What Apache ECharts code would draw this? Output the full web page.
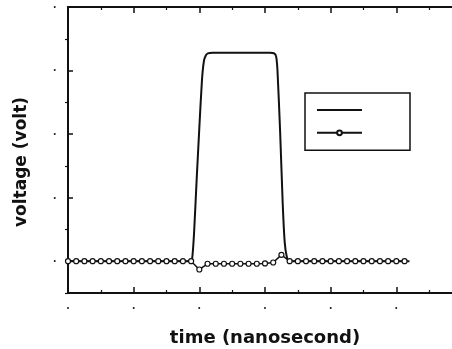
<!DOCTYPE html>
<html>
<head>
<meta charset="utf-8">
<script src="https://cdn.jsdelivr.net/npm/echarts@6/dist/echarts.min.js"></script>
<style>
html,body{margin:0;padding:0;background:#fff;}
#c{width:452px;height:349px;}
</style>
</head>
<body>
<div id="c"></div>
<script>
// ---- data ----
const xTitle = 'time (nanosecond)';
const yTitle = 'voltage (volt)';
const tickDot = '•';
const xLabelValues = [0, 1, 2, 3, 4, 5];
const yLabelValues = [0, 1, 2, 3, 4];
const yMinorValues = [-0.5, 0.5, 1.5, 2.5, 3.5];

// solid pulse (no markers)
const pulseTime = [0, 1.85, 1.89, 1.92, 1.96, 2.00, 2.04, 2.07, 2.10, 2.13, 2.20, 3.08, 3.14, 3.17, 3.19, 3.23, 3.27, 3.30, 3.33, 3.37, 5.2];
const pulseVolt = [0, 0, 0.04, 0.45, 1.3, 2.1, 2.85, 3.15, 3.24, 3.27, 3.28, 3.28, 3.27, 3.22, 3.0, 2.05, 0.9, 0.3, 0.08, 0, 0];

// line with open circle markers
const markTime = [0, 0.125, 0.25, 0.375, 0.5, 0.625, 0.75, 0.875, 1.0, 1.125, 1.25, 1.375, 1.5, 1.625, 1.75, 1.875,
  2.0, 2.125, 2.25, 2.375, 2.5, 2.625, 2.75, 2.875, 3.0, 3.125, 3.25, 3.375,
  3.5, 3.625, 3.75, 3.875, 4.0, 4.125, 4.25, 4.375, 4.5, 4.625, 4.75, 4.875, 5.0, 5.125];
const markVolt = [0, 0, 0, 0, 0, 0, 0, 0, 0, 0, 0, 0, 0, 0, 0, 0,
  -0.13, -0.04, -0.04, -0.04, -0.04, -0.04, -0.04, -0.04, -0.035, -0.02, 0.1, 0.0,
  0, 0, 0, 0, 0, 0, 0, 0, 0, 0, 0, 0, 0, 0];

const seriesNames = ['pulse', 'response'];

const pair = (xs, ys) => xs.map((x, i) => [x, ys[i]]);
const ink = '#111';
const gridLeft = 68, gridRight = -10;
const gridWidth = 452 - gridLeft - gridRight;

const chart = echarts.init(document.getElementById('c'), null, {renderer: 'canvas'});
chart.setOption({
  backgroundColor: '#fff',
  animation: false,
  grid: {left: gridLeft, top: 7, right: gridRight, bottom: 56, containLabel: false, outerBoundsMode: 'none'},
  legend: {
    left: 305, top: 93, orient: 'vertical',
    data: [
      {name: seriesNames[0], itemStyle: {color: 'rgba(0,0,0,0)', borderWidth: 0}},
      {name: seriesNames[1]}
    ],
    formatter: () => '',
    itemWidth: 45, itemHeight: 6, itemGap: 17,
    padding: [14, 47, 14, 11],
    borderColor: ink, borderWidth: 1.5,
    backgroundColor: '#fff'
  },
  xAxis: [{
    type: 'value', min: 0, max: 6, interval: 1, position: 'bottom',
    name: xTitle, nameLocation: 'middle', nameGap: 36,
    nameTextStyle: {fontFamily: 'DejaVu Sans', fontWeight: 'bold', fontSize: 18, color: ink},
    axisLine: {onZero: false, lineStyle: {color: ink, width: 2}},
    axisTick: {inside: true, length: 6, lineStyle: {color: ink, width: 1.5}},
    minorTick: {show: true, splitNumber: 2, length: 3, lineStyle: {color: ink, width: 1.2}},
    axisLabel: {customValues: xLabelValues, formatter: () => tickDot, margin: 12,
      fontSize: 7, color: ink},
    splitLine: {show: false}
  }, {
    type: 'value', min: 0, max: 6, interval: 1, position: 'top',
    axisLine: {onZero: false, lineStyle: {color: ink, width: 2}},
    axisTick: {inside: true, length: 6, lineStyle: {color: ink, width: 1.5}},
    minorTick: {show: true, splitNumber: 2, length: 3, lineStyle: {color: ink, width: 1.2}},
    axisLabel: {show: false},
    splitLine: {show: false}
  }],
  yAxis: [{
    type: 'value', min: -0.5, max: 4, position: 'left',
    name: yTitle, nameLocation: 'middle', nameGap: 38, nameRotate: 90,
    nameTextStyle: {fontFamily: 'DejaVu Sans', fontWeight: 'bold', fontSize: 17, color: ink,
      padding: [0, 24, 0, 0]},
    axisLine: {onZero: false, lineStyle: {color: ink, width: 2}},
    axisTick: {inside: true, length: 5, customValues: yLabelValues, lineStyle: {color: ink, width: 1.5}},
    axisLabel: {customValues: yLabelValues, formatter: () => tickDot, margin: 12,
      fontSize: 7, color: ink},
    splitLine: {show: false}
  }, {
    // minor ticks, moved onto the left axis line
    type: 'value', min: -0.5, max: 4, position: 'right', offset: -gridWidth,
    axisLine: {show: false, onZero: false},
    axisTick: {inside: true, length: 3, customValues: yMinorValues, lineStyle: {color: ink, width: 1.2}},
    axisLabel: {show: false},
    splitLine: {show: false}
  }],
  series: [{
    name: seriesNames[0], type: 'line', xAxisIndex: 0, yAxisIndex: 0,
    data: pair(pulseTime, pulseVolt),
    symbol: 'none', smooth: 0.2,
    lineStyle: {color: ink, width: 2},
    itemStyle: {color: ink}
  }, {
    name: seriesNames[1], type: 'line', xAxisIndex: 0, yAxisIndex: 0,
    data: pair(markTime, markVolt),
    symbol: 'circle', symbolSize: 5, showAllSymbol: true,
    lineStyle: {color: ink, width: 1.5},
    itemStyle: {color: '#fff', borderColor: ink, borderWidth: 1.2}
  }]
});
</script>
</body>
</html>
